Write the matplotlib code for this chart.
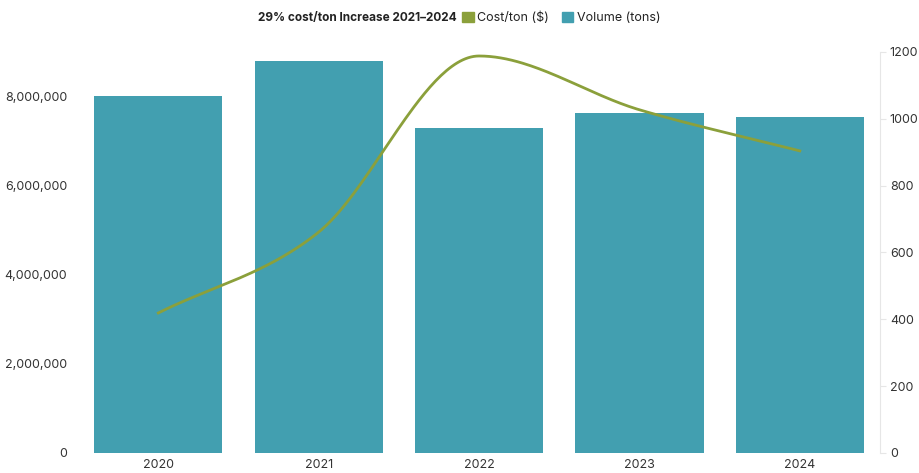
import matplotlib.pyplot as plt
import matplotlib.patches as mpatches
import numpy as np

# data
years = ["2020", "2021", "2022", "2023", "2024"]
volume_tons = [8020000, 8790000, 7300000, 7640000, 7550000]
cost_per_ton = [419, 661, 1188, 1027, 904]

bar_color = "#429FB0"
line_color = "#8BA03B"
text_color = "#333333"

plt.rcParams['font.family'] = ['Inter', 'DejaVu Sans']


def monotone_curve(x, y, n=60):
    # monotone cubic interpolation (Fritsch-Carlson), as chart libraries draw it
    x = np.asarray(x, float)
    y = np.asarray(y, float)
    h = np.diff(x)
    d = np.diff(y) / h
    m = np.zeros_like(y)
    m[0], m[-1] = d[0], d[-1]
    for k in range(1, len(y) - 1):
        m[k] = 0 if d[k - 1] * d[k] <= 0 else (d[k - 1] + d[k]) / 2
    for k in range(len(d)):
        if d[k] == 0:
            m[k] = m[k + 1] = 0
            continue
        a, b = m[k] / d[k], m[k + 1] / d[k]
        s = a * a + b * b
        if s > 9:
            t = 3 / np.sqrt(s)
            m[k], m[k + 1] = t * a * d[k], t * b * d[k]
    xs, ys = [], []
    for k in range(len(d)):
        t = np.linspace(0, 1, n)
        h00 = 2 * t**3 - 3 * t**2 + 1
        h10 = t**3 - 2 * t**2 + t
        h01 = -2 * t**3 + 3 * t**2
        h11 = t**3 - t**2
        xs.append(x[k] + t * h[k])
        ys.append(h00 * y[k] + h10 * h[k] * m[k] + h01 * y[k + 1] + h11 * h[k] * m[k + 1])
    return np.concatenate(xs), np.concatenate(ys)


fig = plt.figure(figsize=(9.19, 4.73), dpi=100)
ax = fig.add_axes([0.085, 0.0423, 0.8726, 0.8478])
pos = np.arange(len(years))
ax.bar(pos, volume_tons, width=0.8, color=bar_color, zorder=2)
ax.set_xlim(-0.5, len(years) - 0.5)
ax.set_ylim(0, 9.0e6)
yt = [0, 2e6, 4e6, 6e6, 8e6]
ax.set_yticks(yt)
ax.set_yticklabels([f"{int(v):,}" for v in yt])
ax.set_xticks(pos)
ax.set_xticklabels(years)
for s in ax.spines.values():
    s.set_visible(False)
ax.tick_params(axis='both', length=0, labelsize=9, colors=text_color)
ax.tick_params(axis='y', pad=8)
ax.tick_params(axis='x', pad=4)

ax2 = ax.twinx()
cx, cy = monotone_curve(pos, cost_per_ton)
ax2.plot(cx, cy, color=line_color, lw=2, zorder=3)
ax2.set_ylim(0, 1200)
ax2.set_yticks([0, 200, 400, 600, 800, 1000, 1200])
for s in ["top", "left", "bottom"]:
    ax2.spines[s].set_visible(False)
ax2.spines["right"].set_color("#e6e6e6")
ax2.tick_params(axis='y', length=4, color="#e6e6e6", labelsize=9,
                labelcolor=text_color, pad=3)

fig.text(0.281, 0.962, "29% cost/ton Increase 2021\u20132024", ha='left',
         va='center', fontsize=8.5, fontweight='bold', color="#222222")
handles = [mpatches.Patch(color=line_color, label="Cost/ton ($)"),
           mpatches.Patch(color=bar_color, label="Volume (tons)")]
fig.legend(handles=handles, loc='center left', bbox_to_anchor=(0.503, 0.962),
           ncol=2, frameon=False, fontsize=9, handlelength=0.9,
           handleheight=0.9, handletextpad=0.3, columnspacing=1.0,
           borderpad=0, borderaxespad=0, labelcolor="#222222")

fig.savefig("out.png", dpi=100)
